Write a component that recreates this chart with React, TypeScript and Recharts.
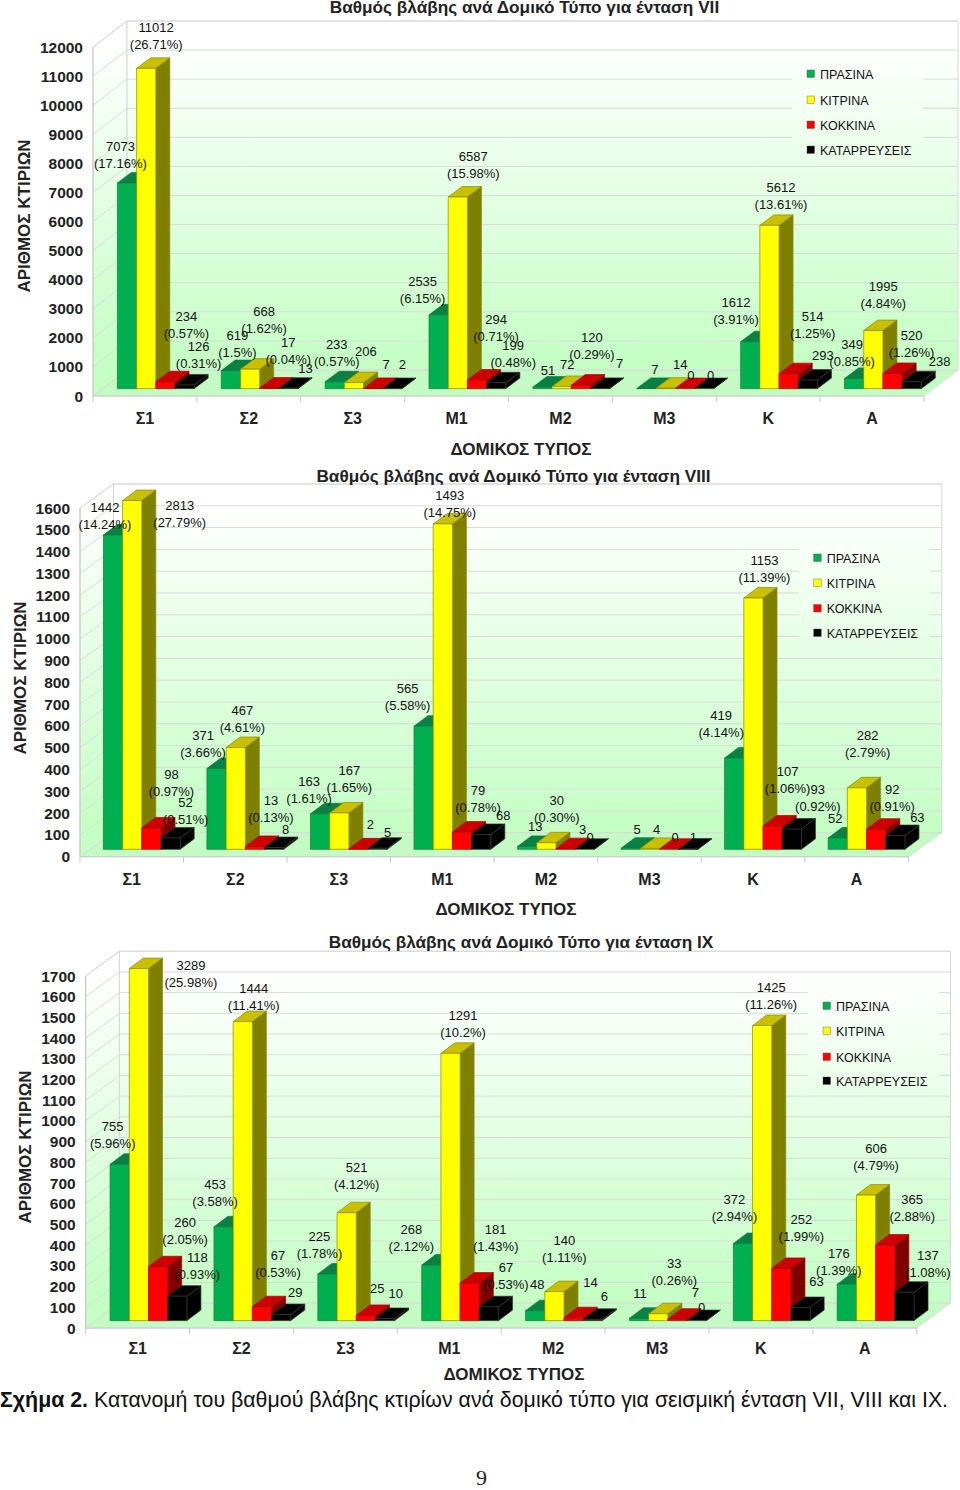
import { BarChart, Bar, XAxis, YAxis, CartesianGrid, LabelList } from 'recharts';

const FONT = '"Liberation Sans", Arial, sans-serif';

const categories = ['Σ1', 'Σ2', 'Σ3', 'Μ1', 'Μ2', 'Μ3', 'Κ', 'Α'];
const seriesNames = ['ΠΡΑΣΙΝΑ', 'ΚΙΤΡΙΝΑ', 'ΚΟΚΚΙΝΑ', 'ΚΑΤΑΡΡΕΥΣΕΙΣ'];

// ένταση VII
const greenVII = [7073, 619, 233, 2535, 51, 7, 1612, 349];
const yellowVII = [11012, 668, 206, 6587, 72, 14, 5612, 1995];
const redVII = [234, 17, 7, 294, 120, 0, 514, 520];
const blackVII = [126, 13, 2, 199, 7, 0, 293, 238];
const greenPctVII = ['17.16', '1.5', '0.57', '6.15', null, null, '3.91', '0.85'];
const yellowPctVII = ['26.71', '1.62', null, '15.98', null, null, '13.61', '4.84'];
const redPctVII = ['0.57', '0.04', null, '0.71', '0.29', null, '1.25', '1.26'];
const blackPctVII = ['0.31', null, null, '0.48', null, null, null, null];
const ticksVII = [0, 1000, 2000, 3000, 4000, 5000, 6000, 7000, 8000, 9000, 10000, 11000, 12000];

// ένταση VIII
const greenVIII = [1442, 371, 163, 565, 13, 5, 419, 52];
const yellowVIII = [2813, 467, 167, 1493, 30, 4, 1153, 282];
const redVIII = [98, 13, 2, 79, 3, 0, 107, 92];
const blackVIII = [52, 8, 5, 68, 0, 1, 93, 63];
const greenPctVIII = ['14.24', '3.66', '1.61', '5.58', null, null, '4.14', null];
const yellowPctVIII = ['27.79', '4.61', '1.65', '14.75', '0.30', null, '11.39', '2.79'];
const redPctVIII = ['0.97', '0.13', null, '0.78', null, null, '1.06', '0.91'];
const blackPctVIII = ['0.51', null, null, null, null, null, '0.92', null];
const ticksVIII = [0, 100, 200, 300, 400, 500, 600, 700, 800, 900, 1000, 1100, 1200, 1300, 1400, 1500, 1600];

// ένταση IX
const greenIX = [755, 453, 225, 268, 48, 11, 372, 176];
const yellowIX = [3289, 1444, 521, 1291, 140, 33, 1425, 606];
const redIX = [260, 67, 25, 181, 14, 7, 252, 365];
const blackIX = [118, 29, 10, 67, 6, 0, 63, 137];
const greenPctIX = ['5.96', '3.58', '1.78', '2.12', null, null, '2.94', '1.39'];
const yellowPctIX = ['25.98', '11.41', '4.12', '10.2', '1.11', '0.26', '11.26', '4.79'];
const redPctIX = ['2.05', '0.53', null, '1.43', null, null, '1.99', '2.88'];
const blackPctIX = ['0.93', null, null, '0.53', null, null, null, '1.08'];
const ticksIX = [0, 100, 200, 300, 400, 500, 600, 700, 800, 900, 1000, 1100, 1200, 1300, 1400, 1500, 1600, 1700];

// the labels were moved by hand in the original, so each one has its own nudge from its bar top
const nudgeVII = [
  [[-6.6, -36], [10, -40.5], [21, -65], [14, -38]],
  [[6.5, -34.7], [14, -58], [19, -46], [17, -20]],
  [[2, -37], [12, -31], [13, -23.5], [10, -23.6]],
  [[-16, -33.5], [15.5, -41], [19, -61], [17, -37]],
  [[5.5, -17], [5.6, -21.6], [11, -48], [19.5, -24.5]],
  [[8.6, -18.5], [14.7, -24], [6, -12.7], [6.6, -12.7]],
  [[-14.3, -39], [11.5, -37.5], [24, -57], [15, -25]],
  [[-2, -34], [10, -44], [19, -38], [28, -20]],
];
const nudgeVIII = [
  [[-8, -28], [47.5, 4.5], [20, -53], [15, -35]],
  [[-13.5, -33], [6.7, -37], [16, -46], [11.6, -18.5]],
  [[-11, -32], [10, -42], [12, -24], [10, -16]],
  [[-16, -38], [7, -28], [16, -42], [22, -19]],
  [[8, -20], [10.5, -42], [17, -19.5], [5.4, -12]],
  [[6.5, -19], [6.7, -19], [6, -11.5], [5, -11.3]],
  [[-13, -42], [11, -38], [15, -54], [26, -40]],
  [[-2.5, -19], [10.7, -52], [16, -40], [22, -18.5]],
];
const nudgeIX = [
  [[-7, -38], [52, -3], [27, -44], [20, -39]],
  [[-8.5, -42], [11, -33], [16, -51], [14, -22]],
  [[-8, -38], [10, -45], [11.5, -27], [10.6, -25]],
  [[-20, -36], [12.5, -38], [26, -54], [17, -39]],
  [[2, -26], [10, -51], [17, -35], [11.5, -23]],
  [[1, -25], [16, -50], [18, -27], [5, -13]],
  [[-8.5, -44], [9, -38], [20, -48.5], [16, -26]],
  [[-8, -31], [10, -47], [27, -46], [23.5, -37]],
];

const tones = [
  { front: '#00b050', top: '#0a8044', side: '#056030', edge: '#0a7a3c' },
  { front: '#ffff00', top: '#c8c000', side: '#808000', edge: '#8a8a00' },
  { front: '#ff0000', top: '#cc0000', side: '#800000', edge: '#aa0000' },
  { front: '#000000', top: '#000000', side: '#000000', edge: '#333333' },
];
const barKeys = ['green', 'yellow', 'red', 'black'];

const BAR_WIDTH = 19.2;
const FLOOR_SHIFT = [10.4, 7.4]; // bars stand a little behind the front edge of the floor
const BAR_DEPTH = [14, 10.5];

function Box3D({ x, y, width, height, tone }: any) {
  const x0 = x + FLOOR_SHIFT[0];
  const y0 = y - FLOOR_SHIFT[1];
  const [dx, dy] = BAR_DEPTH;
  const t = tones[tone];
  return (
    <g stroke={t.edge} strokeWidth={0.7} strokeLinejoin="round">
      <polygon
        points={`${x0 + width},${y0} ${x0 + width + dx},${y0 - dy} ${x0 + width + dx},${y0 + height - dy} ${x0 + width},${y0 + height}`}
        fill={t.side}
      />
      <polygon
        points={`${x0},${y0} ${x0 + dx},${y0 - dy} ${x0 + width + dx},${y0 - dy} ${x0 + width},${y0}`}
        fill={t.top}
      />
      <rect x={x0} y={y0} width={width} height={height} fill={t.front} />
    </g>
  );
}

function DataLabel({ x, y, width, index, values, pcts, nudge, series }: any) {
  const [nx, ny] = nudge[index][series];
  const cx = x + width / 2 + FLOOR_SHIFT[0] + nx;
  const cy = y - FLOOR_SHIFT[1] + ny;
  return (
    <text textAnchor="middle" fontFamily={FONT} fontSize={13} fill="#111">
      <tspan x={cx} y={cy + 4.5}>{values[series][index]}</tspan>
      {pcts[series][index] && <tspan x={cx} y={cy + 21.5}>({pcts[series][index]}%)</tspan>}
    </text>
  );
}

function CategoryTick({ x, payload, index, band, bottom, labelDy }: any) {
  return (
    <g>
      <line x1={x - band / 2} x2={x - band / 2} y1={bottom} y2={bottom + 6} stroke="#c8c8c8" />
      {index === categories.length - 1 && (
        <line x1={x + band / 2} x2={x + band / 2} y1={bottom} y2={bottom + 6} stroke="#c8c8c8" />
      )}
      <text x={x} y={bottom + labelDy} textAnchor="middle" fontFamily={FONT} fontSize={16} fontWeight="bold" fill="#222">
        {payload.value}
      </text>
    </g>
  );
}

// walls and floor sit in their own svg under the chart, so the grid of the chart stays on top of them
function Room({ id, height, box, depth }: any) {
  const { left, right, top, bottom } = box;
  const [dx, dy] = depth;
  return (
    <svg width={960} height={height} style={{ position: 'absolute', left: 0, top: 0 }}>
      <defs>
        <linearGradient id={`room${id}`} gradientUnits="userSpaceOnUse" x1="0" x2="0" y1={top - dy + 20} y2={bottom - dy}>
          <stop offset="0" stopColor="#ffffff" />
          <stop offset="1" stopColor="#c4ffc4" />
        </linearGradient>
      </defs>
      <polygon
        points={`${left},${top} ${left + dx},${top - dy} ${left + dx},${bottom - dy} ${left},${bottom}`}
        fill={`url(#room${id})`}
        stroke="#d8d8d8"
      />
      <rect x={left + dx} y={top - dy} width={right - left} height={bottom - top} fill={`url(#room${id})`} stroke="#d8d8d8" />
      <polygon
        points={`${left},${bottom} ${right},${bottom} ${right + dx},${bottom - dy} ${left + dx},${bottom - dy}`}
        fill="#c4fac4"
        stroke="#d0e8d0"
      />
    </svg>
  );
}

function Panel({ id, height, box, depth, values, pcts, nudge, ticks, title, yTitle, xTitle, legend, tickDy }: any) {
  const { left, right, top, bottom } = box;
  const [dx, dy] = depth;
  const maxTick = ticks[ticks.length - 1];
  const band = (right - left) / categories.length;
  // bars that run past the axis are cut at the top of it, the label keeps the true value
  const rows = categories.map((name, i) => ({
    name,
    green: Math.min(values[0][i], maxTick),
    yellow: Math.min(values[1][i], maxTick),
    red: Math.min(values[2][i], maxTick),
    black: Math.min(values[3][i], maxTick),
  }));
  const gradId = `wall${id}`;
  return (
    <div style={{ position: 'relative', width: 960, height }}>
      <Room id={id} height={height} box={box} depth={depth} />
      <div style={{ position: 'absolute', left: 0, top: 0 }}>
        <BarChart
          width={960}
          height={height}
          data={rows}
          barSize={BAR_WIDTH}
          barGap={0}
          margin={{ left: left - 60, right: 960 - right, top, bottom: height - bottom - 30 }}
        >
          <defs>
            <linearGradient id={gradId} gradientUnits="userSpaceOnUse" x1="0" x2="0" y1={top - dy + 20} y2={bottom - dy}>
              <stop offset="0" stopColor="#ffffff" />
              <stop offset="1" stopColor="#c4ffc4" />
            </linearGradient>
          </defs>
          <CartesianGrid
            vertical={false}
            horizontal={(p: any) => (
              <path
                key={p.key ?? p.index}
                d={`M${p.x1} ${p.y1} L${p.x1 + dx} ${p.y1 - dy} L${p.x2 + dx} ${p.y1 - dy}`}
                fill="none"
                stroke="#d6dcd6"
              />
            )}
          />
          <XAxis
            dataKey="name"
            height={30}
            interval={0}
            tickLine={false}
            axisLine={{ stroke: '#c8c8c8' }}
            tick={(p: any) => <CategoryTick {...p} band={band} bottom={bottom} labelDy={tickDy} />}
          />
          <XAxis xAxisId="labels" dataKey="name" hide />
          <YAxis
            type="number"
            width={60}
            domain={[0, maxTick]}
            ticks={ticks}
            interval={0}
            tickSize={0}
            tickMargin={10}
            tickLine={false}
            axisLine={{ stroke: '#c8c8c8' }}
            tick={{ fontFamily: FONT, fontSize: 15.5, fontWeight: 'bold', fill: '#222' }}
          />

          <rect
            x={legend.x - 19}
            y={legend.ys[0] - 19}
            width={131}
            height={legend.ys[3] - legend.ys[0] + 29}
            fill={`url(#${gradId})`}
          />
          {seriesNames.map((name, s) => (
            <g key={name}>
              <rect x={legend.x - 4} y={legend.ys[s] - 4} width={7.5} height={7.5} fill={tones[s].front} stroke="#555" strokeWidth={0.4} />
              <text x={legend.x + 9} y={legend.ys[s] + 4.5} fontFamily={FONT} fontSize={12.5} fill="#111">
                {name}
              </text>
            </g>
          ))}

          {barKeys.map((key, s) => (
            <Bar
              key={key}
              dataKey={key}
              isAnimationActive={false}
              shape={(p: any) => <Box3D {...p} tone={s} />}
            />
          ))}
          {barKeys.map((key, s) => (
            <Bar
              key={`${key}-labels`}
              xAxisId="labels"
              dataKey={key}
              isAnimationActive={false}
              shape={() => null}
            >
              <LabelList
                dataKey={key}
                content={(p: any) => (
                  <DataLabel
                    x={p.viewBox?.x ?? p.x}
                    y={p.viewBox?.y ?? p.y}
                    width={p.viewBox?.width ?? p.width}
                    index={p.index}
                    values={values}
                    pcts={pcts}
                    nudge={nudge}
                    series={s}
                  />
                )}
              />
            </Bar>
          ))}

          <text x={title.x} y={title.y} textAnchor="middle" fontFamily={FONT} fontSize={17.2} fontWeight="bold" fill="#222">
            {title.text}
          </text>
          <text x={xTitle.x} y={xTitle.y} textAnchor="middle" fontFamily={FONT} fontSize={17} fontWeight="bold" fill="#222">
            ΔΟΜΙΚΟΣ ΤΥΠΟΣ
          </text>
          <text
            transform={`translate(${yTitle.x},${yTitle.y}) rotate(-90)`}
            textAnchor="middle"
            fontFamily={FONT}
            fontSize={17}
            fontWeight="bold"
            fill="#222"
          >
            ΑΡΙΘΜΟΣ ΚΤΙΡΙΩΝ
          </text>
        </BarChart>
      </div>
    </div>
  );
}

export default function App() {
  const panelStyle = (top: number) => ({ position: 'absolute' as const, left: 0, top });
  return (
    <div style={{ position: 'absolute', left: 0, top: 0, width: 960, height: 1490, background: '#fff', overflow: 'hidden' }}>
      <div style={panelStyle(0)}>
        <Panel
          id="VII"
          height={460}
          box={{ left: 93, right: 924, top: 47, bottom: 396 }}
          depth={[34, 26]}
          values={[greenVII, yellowVII, redVII, blackVII]}
          pcts={[greenPctVII, yellowPctVII, redPctVII, blackPctVII]}
          nudge={nudgeVII}
          ticks={ticksVII}
          tickDy={28}
          title={{ text: 'Βαθμός βλάβης ανά Δομικό Τύπο για ένταση VII', x: 524.5, y: 13 }}
          xTitle={{ x: 521, y: 455 }}
          yTitle={{ x: 30, y: 216 }}
          legend={{ x: 811, ys: [74, 100, 125, 150] }}
        />
      </div>
      <div style={panelStyle(460)}>
        <Panel
          id="VIII"
          height={460}
          box={{ left: 80, right: 908.3, top: 48, bottom: 396.7 }}
          depth={[33.5, 24]}
          values={[greenVIII, yellowVIII, redVIII, blackVIII]}
          pcts={[greenPctVIII, yellowPctVIII, redPctVIII, blackPctVIII]}
          nudge={nudgeVIII}
          ticks={ticksVIII}
          tickDy={28}
          title={{ text: 'Βαθμός βλάβης ανά Δομικό Τύπο για ένταση VIII', x: 513.5, y: 22 }}
          xTitle={{ x: 506, y: 455 }}
          yTitle={{ x: 26, y: 218 }}
          legend={{ x: 817.7, ys: [98, 123, 148.5, 173] }}
        />
      </div>
      <div style={panelStyle(920)}>
        <Panel
          id="IX"
          height={470}
          box={{ left: 85.7, right: 916.7, top: 56, bottom: 408 }}
          depth={[33.7, 24.8]}
          values={[greenIX, yellowIX, redIX, blackIX]}
          pcts={[greenPctIX, yellowPctIX, redPctIX, blackPctIX]}
          nudge={nudgeIX}
          ticks={ticksIX}
          tickDy={26}
          title={{ text: 'Βαθμός βλάβης ανά Δομικό Τύπο για ένταση IX', x: 521, y: 28 }}
          xTitle={{ x: 514, y: 460 }}
          yTitle={{ x: 31, y: 227 }}
          legend={{ x: 827, ys: [86, 111, 137, 161] }}
        />
      </div>
      <div
        style={{
          position: 'absolute',
          left: 0,
          top: 1388,
          width: 960,
          fontFamily: FONT,
          fontSize: 21.35,
          color: '#111',
          whiteSpace: 'nowrap',
        }}
      >
        <b>Σχήμα 2.</b> Κατανομή του βαθμού βλάβης κτιρίων ανά δομικό τύπο για σεισμική ένταση VII, VIII και IX.
      </div>
      <div style={{ position: 'absolute', left: 476, top: 1465, fontFamily: '"Liberation Serif", serif', fontSize: 22, color: '#222' }}>
        9
      </div>
    </div>
  );
}
